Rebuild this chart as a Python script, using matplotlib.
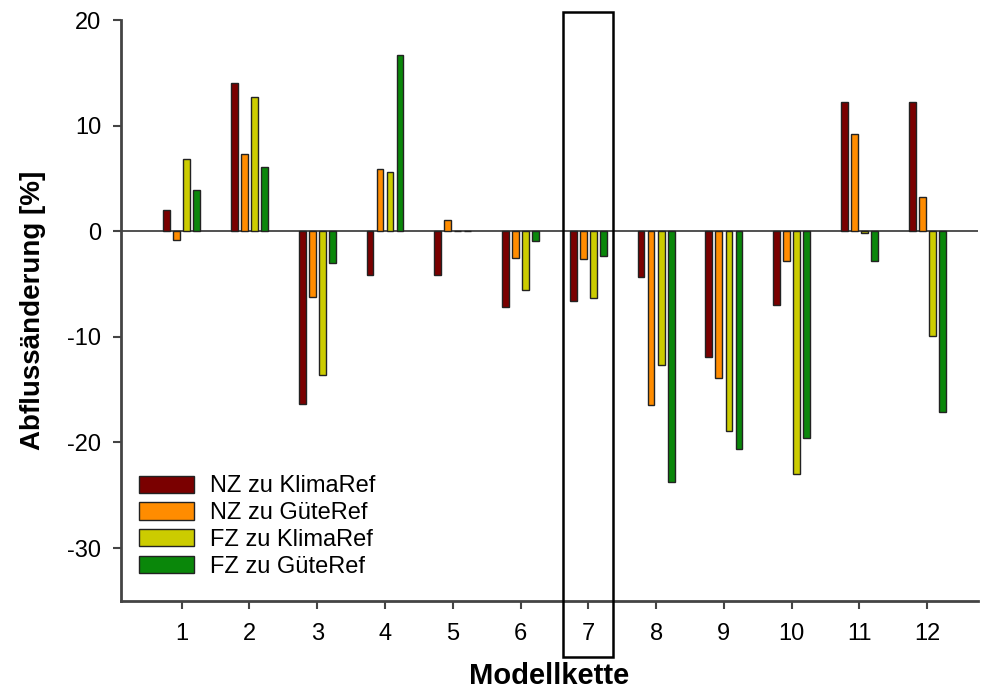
import numpy as np
import matplotlib.pyplot as plt
from matplotlib.patches import Rectangle

plt.rcParams['font.family'] = ['Liberation Sans', 'DejaVu Sans']
plt.rcParams['axes.unicode_minus'] = False

ketten = np.arange(1, 13)
nz_klima = [2.0, 14.0, -16.4, -4.15, -4.1, -7.2, -6.6, -4.35, -11.9, -6.95, 12.2, 12.2]
nz_guete = [-0.8, 7.35, -6.2, 5.9, 1.1, -2.55, -2.6, -16.45, -13.85, -2.8, 9.2, 3.2]
fz_klima = [6.8, 12.7, -13.6, 5.6, 0.0, -5.6, -6.35, -12.65, -18.9, -23.0, -0.15, -9.9]
fz_guete = [3.95, 6.05, -3.0, 16.7, 0.0, -0.95, -2.3, -23.75, -20.65, -19.6, -2.85, -17.1]

series = [nz_klima, nz_guete, fz_klima, fz_guete]
labels = ['NZ zu KlimaRef', 'NZ zu GüteRef', 'FZ zu KlimaRef', 'FZ zu GüteRef']
colors = ['#7a0000', '#ff8c00', '#cccc00', '#0a870a']

fig = plt.figure(figsize=(9.81, 6.93), dpi=100)
ax = fig.add_axes([0.123, 0.133, 0.874, 0.838])

step = 0.148
width = 0.1
for i, (vals, lab, col) in enumerate(zip(series, labels, colors)):
    ax.bar(ketten + (i - 1.5) * step, vals, width, color=col, edgecolor='#222222',
           linewidth=1.0, label=lab, zorder=3)

ax.axhline(0, color='#333333', linewidth=1.2, zorder=2)

ax.set_xlim(0.1, 12.75)
ax.set_ylim(-35, 20)
ax.set_yticks([-30, -20, -10, 0, 10, 20])
ax.set_xticks(ketten)
ax.tick_params(axis='both', labelsize=17, length=6, width=1.5, color='#444444')
ax.tick_params(axis='y', pad=8)
ax.tick_params(axis='x', pad=10)

for s in ['top', 'right']:
    ax.spines[s].set_visible(False)
for s in ['left', 'bottom']:
    ax.spines[s].set_linewidth(2)
    ax.spines[s].set_color('#444444')

ax.set_ylabel('Abflussänderung [%]', fontsize=20, fontweight='bold', labelpad=15)
ax.set_xlabel('Modellkette', fontsize=21, fontweight='bold', labelpad=12)

# highlight box around chain 7
box = Rectangle((6.63, -40.3), 0.74, 61.1, fill=False, edgecolor='black',
                linewidth=1.8, clip_on=False, zorder=4)
ax.add_patch(box)

ax.legend(loc='lower left', bbox_to_anchor=(0.021, 0.04), frameon=False, fontsize=17,
          borderpad=0, borderaxespad=0, handlelength=2.35, handleheight=0.75,
          labelspacing=0.2, handletextpad=0.65)

fig.savefig('out.png', dpi=100)
